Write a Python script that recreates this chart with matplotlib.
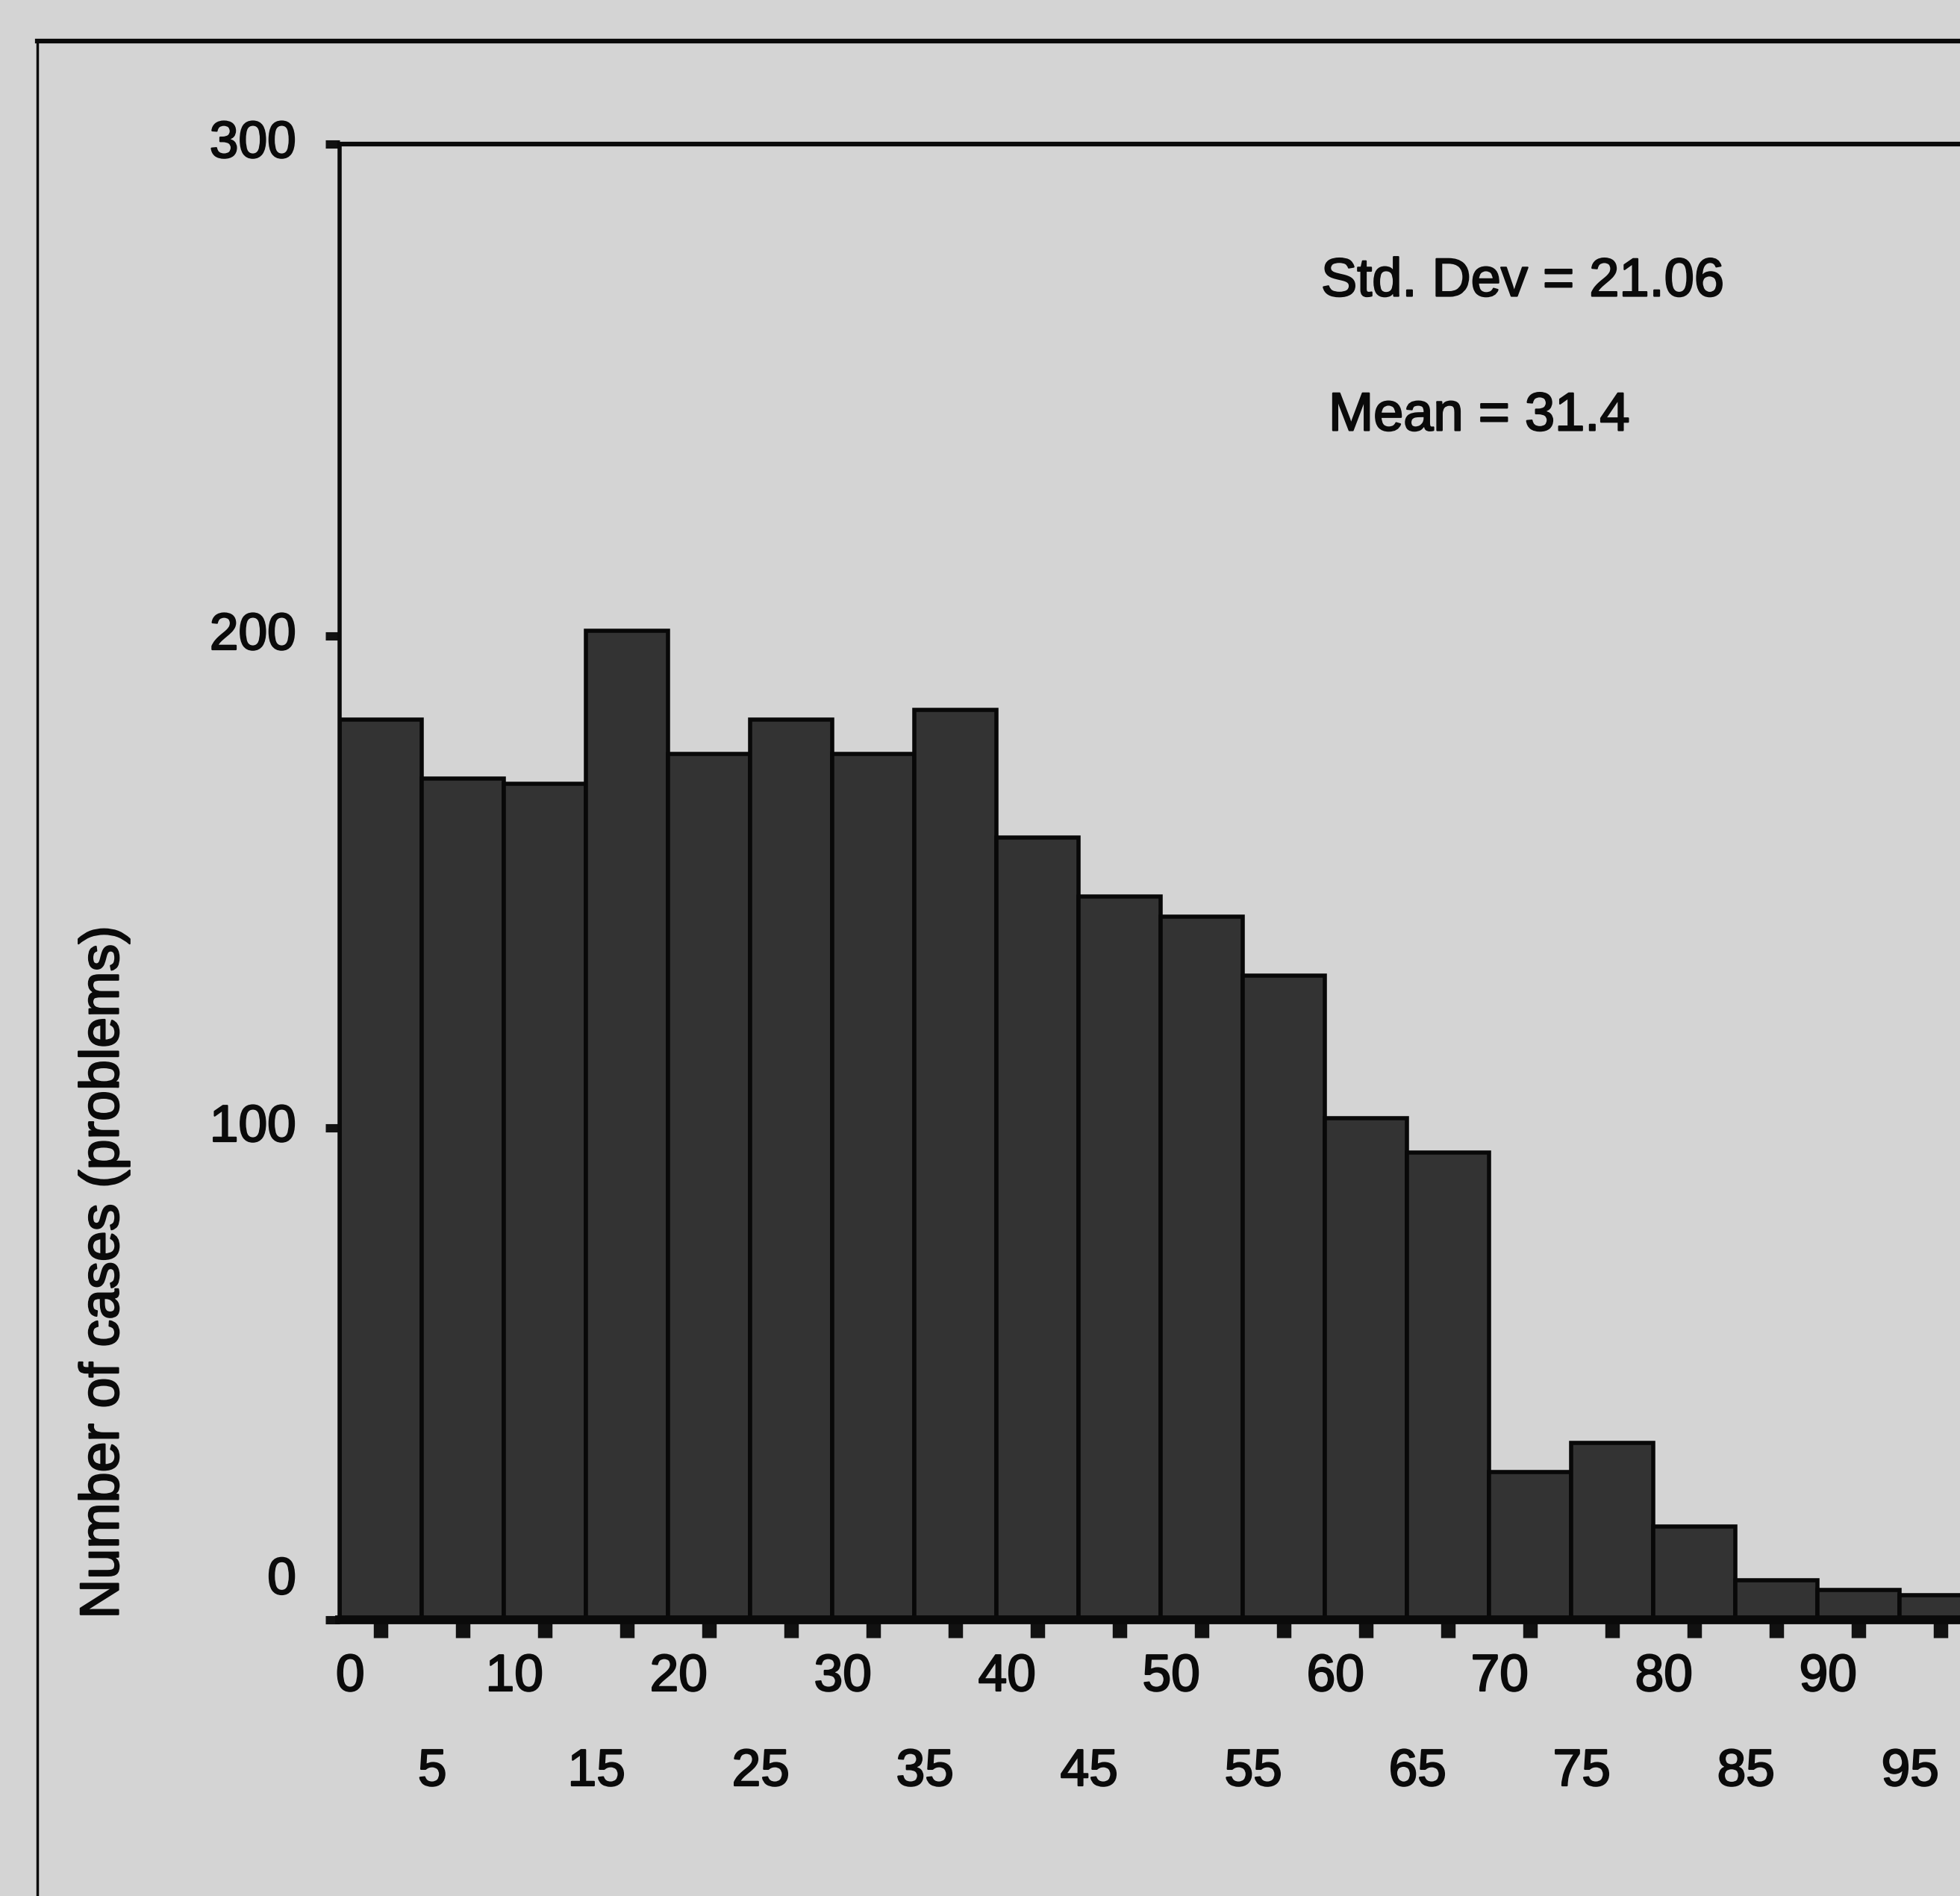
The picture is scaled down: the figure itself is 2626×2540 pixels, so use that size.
import matplotlib.pyplot as plt
from matplotlib.lines import Line2D
from matplotlib import transforms
import matplotlib.patheffects as pe

plt.rcParams['font.family'] = ['Liberation Sans', 'DejaVu Sans']

# histogram data (bins of width 5)
bin_width = 5
bin_lefts = [0, 5, 10, 15, 20, 25, 30, 35, 40, 45, 50, 55, 60, 65, 70, 75, 80, 85, 90, 95]
counts = [183, 171, 170, 201, 176, 183, 176, 185, 159, 147, 143, 131, 102, 95, 30, 36, 19, 8, 6, 5]
y_ticks = [0, 100, 200, 300]
x_labels_top = [0, 10, 20, 30, 40, 50, 60, 70, 80, 90]
x_labels_bottom = [5, 15, 25, 35, 45, 55, 65, 75, 85, 95]
std_dev = 21.06
mean = 31.4

W, H = 2626, 2540
bg = '#d4d4d4'
ink = '#0a0a0a'
# scanned print looks heavier than the regular font
heavy = [pe.withStroke(linewidth=1.6, foreground=ink)]

fig = plt.figure(figsize=(W / 100, H / 100), dpi=100, facecolor=bg)
ax = fig.add_axes([455 / W, 370 / H, 2200 / W, 1977 / H])
ax.set_facecolor(bg)

ax.bar(bin_lefts, counts, width=bin_width, align='edge',
       color='#333333', edgecolor='#080808', linewidth=4, zorder=2)
ax.set_xlim(0, 100)
ax.set_ylim(0, 300)

ax.spines['right'].set_visible(False)
ax.spines['left'].set_linewidth(4)
ax.spines['top'].set_linewidth(4.5)
ax.spines['bottom'].set_linewidth(8.5)
for s in ax.spines.values():
    s.set_color(ink)
    s.set_zorder(3)

# ticks at bin centres, labels drawn by hand (they are staggered)
ax.set_xticks([b + bin_width / 2 for b in bin_lefts])
ax.set_xticklabels([])
ax.tick_params(axis='x', length=17, width=14, color='#111111')
ax.set_yticks(y_ticks)
ax.set_yticklabels([])
ax.tick_params(axis='y', length=14, width=8, color='#111111')

tr_x = transforms.blended_transform_factory(ax.transData, fig.transFigure)
for v in x_labels_top:
    ax.text(v + 0.65, 1 - 2247 / H, str(v), transform=tr_x,
            ha='center', va='center', fontsize=50, color=ink, path_effects=heavy)
for v in x_labels_bottom:
    ax.text(v + 0.65, 1 - 2374 / H, str(v), transform=tr_x,
            ha='center', va='center', fontsize=50, color=ink, path_effects=heavy)

tr_y = transforms.blended_transform_factory(fig.transFigure, ax.transData)
for v in y_ticks:
    ypos = v if v else v + 8
    ax.text(397 / W, ypos, str(v), transform=tr_y,
            ha='right', va='center', fontsize=50, color=ink, path_effects=heavy)

fig.text(139 / W, 1 - 1704 / H, 'Number of cases (problems)', rotation=90,
         ha='center', va='center', fontsize=53, color=ink, path_effects=heavy)

fig.text(1770 / W, 1 - 378 / H, f'Std. Dev = {std_dev:.2f}',
         ha='left', va='center', fontsize=52, color=ink, path_effects=heavy)
fig.text(1780 / W, 1 - 558 / H, f'Mean = {mean}',
         ha='left', va='center', fontsize=52, color=ink, path_effects=heavy)

# outer frame of the scanned page
fig.add_artist(Line2D([50 / W, 50 / W], [0, 1 - 55 / H],
                      transform=fig.transFigure, color=ink, lw=2.5))
fig.add_artist(Line2D([50 / W, 1], [1 - 55 / H, 1 - 55 / H],
                      transform=fig.transFigure, color=ink, lw=4.5))

fig.savefig('out.png', dpi=100, facecolor=bg)
